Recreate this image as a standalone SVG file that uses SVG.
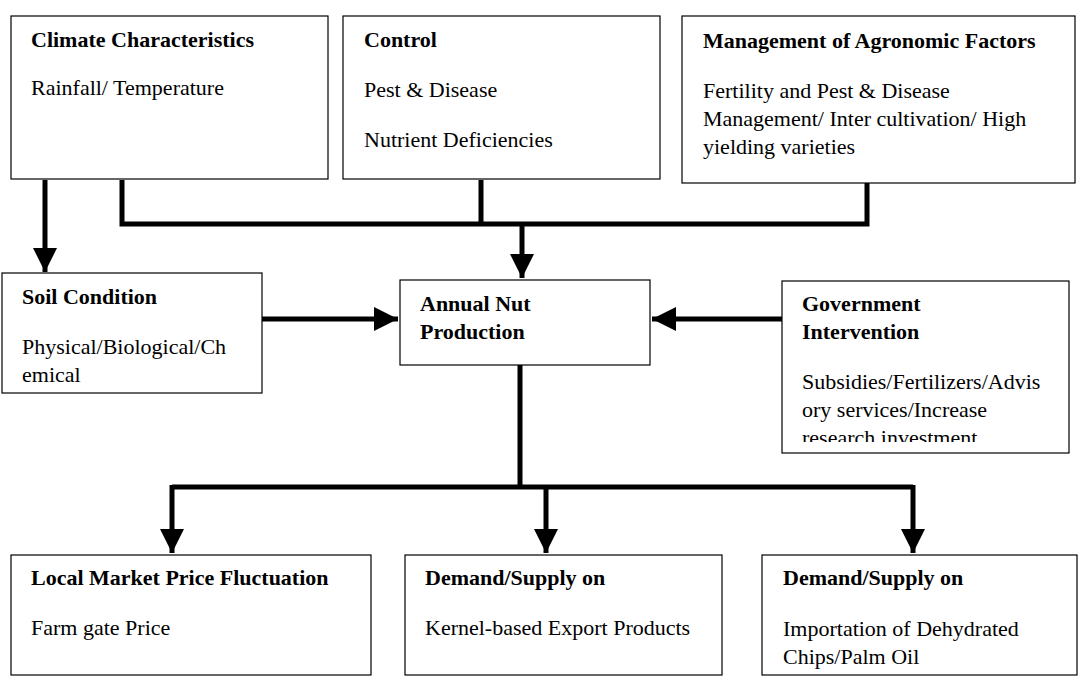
<svg xmlns="http://www.w3.org/2000/svg" width="1084" height="691" viewBox="0 0 1084 691">
<style>
.b{fill:#fff;stroke:#000;stroke-width:1.2}
text{font-family:"Liberation Serif",serif;font-size:22px;fill:#000;white-space:pre}
.t{font-weight:bold}
.c{stroke:#000;stroke-width:5;fill:none}
</style>
<defs>
<marker id="a" markerUnits="userSpaceOnUse" markerWidth="26" markerHeight="26" refX="24" refY="12" orient="auto"><path d="M0,0 L24,12 L0,24 Z" fill="#000"/></marker>
<clipPath id="gc"><rect x="782" y="281" width="287" height="161"/></clipPath>
</defs>
<rect width="1084" height="691" fill="#fff"/>
<g id="climate"><rect class="b" x="11" y="16" width="317" height="163"/><text class="t" x="31" y="47">Climate Characteristics</text><text x="31" y="95">Rainfall/ Temperature</text></g>
<g id="control"><rect class="b" x="343" y="16" width="317" height="163"/><text class="t" x="364" y="47">Control</text><text x="364" y="97">Pest &amp; Disease</text><text x="364" y="147">Nutrient Deficiencies</text></g>
<g id="management"><rect class="b" x="682" y="16" width="393" height="167"/><text class="t" x="703" y="48">Management of Agronomic Factors</text><text x="703" y="98">Fertility and Pest &amp; Disease</text><text x="703" y="126">Management/ Inter cultivation/ High</text><text x="703" y="154">yielding varieties</text></g>
<g id="soil"><rect class="b" x="2" y="273" width="260" height="120"/><text class="t" x="22" y="304">Soil Condition</text><text x="22" y="354">Physical/Biological/Ch</text><text x="22" y="382">emical</text></g>
<g id="annual"><rect class="b" x="400" y="280" width="250" height="85"/><text class="t" x="420" y="311">Annual Nut</text><text class="t" x="420" y="339">Production</text></g>
<g id="gov"><rect class="b" x="782" y="281" width="287" height="172"/><text class="t" x="802" y="311">Government</text><text class="t" x="802" y="339">Intervention</text><g clip-path="url(#gc)"><text x="802" y="389">Subsidies/Fertilizers/Advis</text><text x="802" y="417">ory services/Increase</text><text x="802" y="445">research investment</text></g></g>
<g id="local"><rect class="b" x="11" y="555" width="360" height="120"/><text class="t" x="31" y="585">Local Market Price Fluctuation</text><text x="31" y="635">Farm gate Price</text></g>
<g id="demand1"><rect class="b" x="405" y="555" width="317" height="120"/><text class="t" x="425" y="585">Demand/Supply on</text><text x="425" y="635">Kernel-based Export Products</text></g>
<g id="demand2"><rect class="b" x="762" y="555" width="315" height="120"/><text class="t" x="783" y="585">Demand/Supply on</text><text x="783" y="636">Importation of Dehydrated</text><text x="783" y="664">Chips/Palm Oil</text></g>
<g id="connectors">
<path class="c" d="M45,180 V272" marker-end="url(#a)"/>
<path class="c" d="M122,180 V224 H867 V183 M481,180 V224"/>
<path class="c" d="M522,224 V278" marker-end="url(#a)"/>
<path class="c" d="M262,319 H398" marker-end="url(#a)"/>
<path class="c" d="M782,319 H652" marker-end="url(#a)"/>
<path class="c" d="M520,365 V487 M172,487 H913"/>
<path class="c" d="M172,485 V553" marker-end="url(#a)"/>
<path class="c" d="M546,487 V553" marker-end="url(#a)"/>
<path class="c" d="M913,485 V553" marker-end="url(#a)"/>
</g>
</svg>
